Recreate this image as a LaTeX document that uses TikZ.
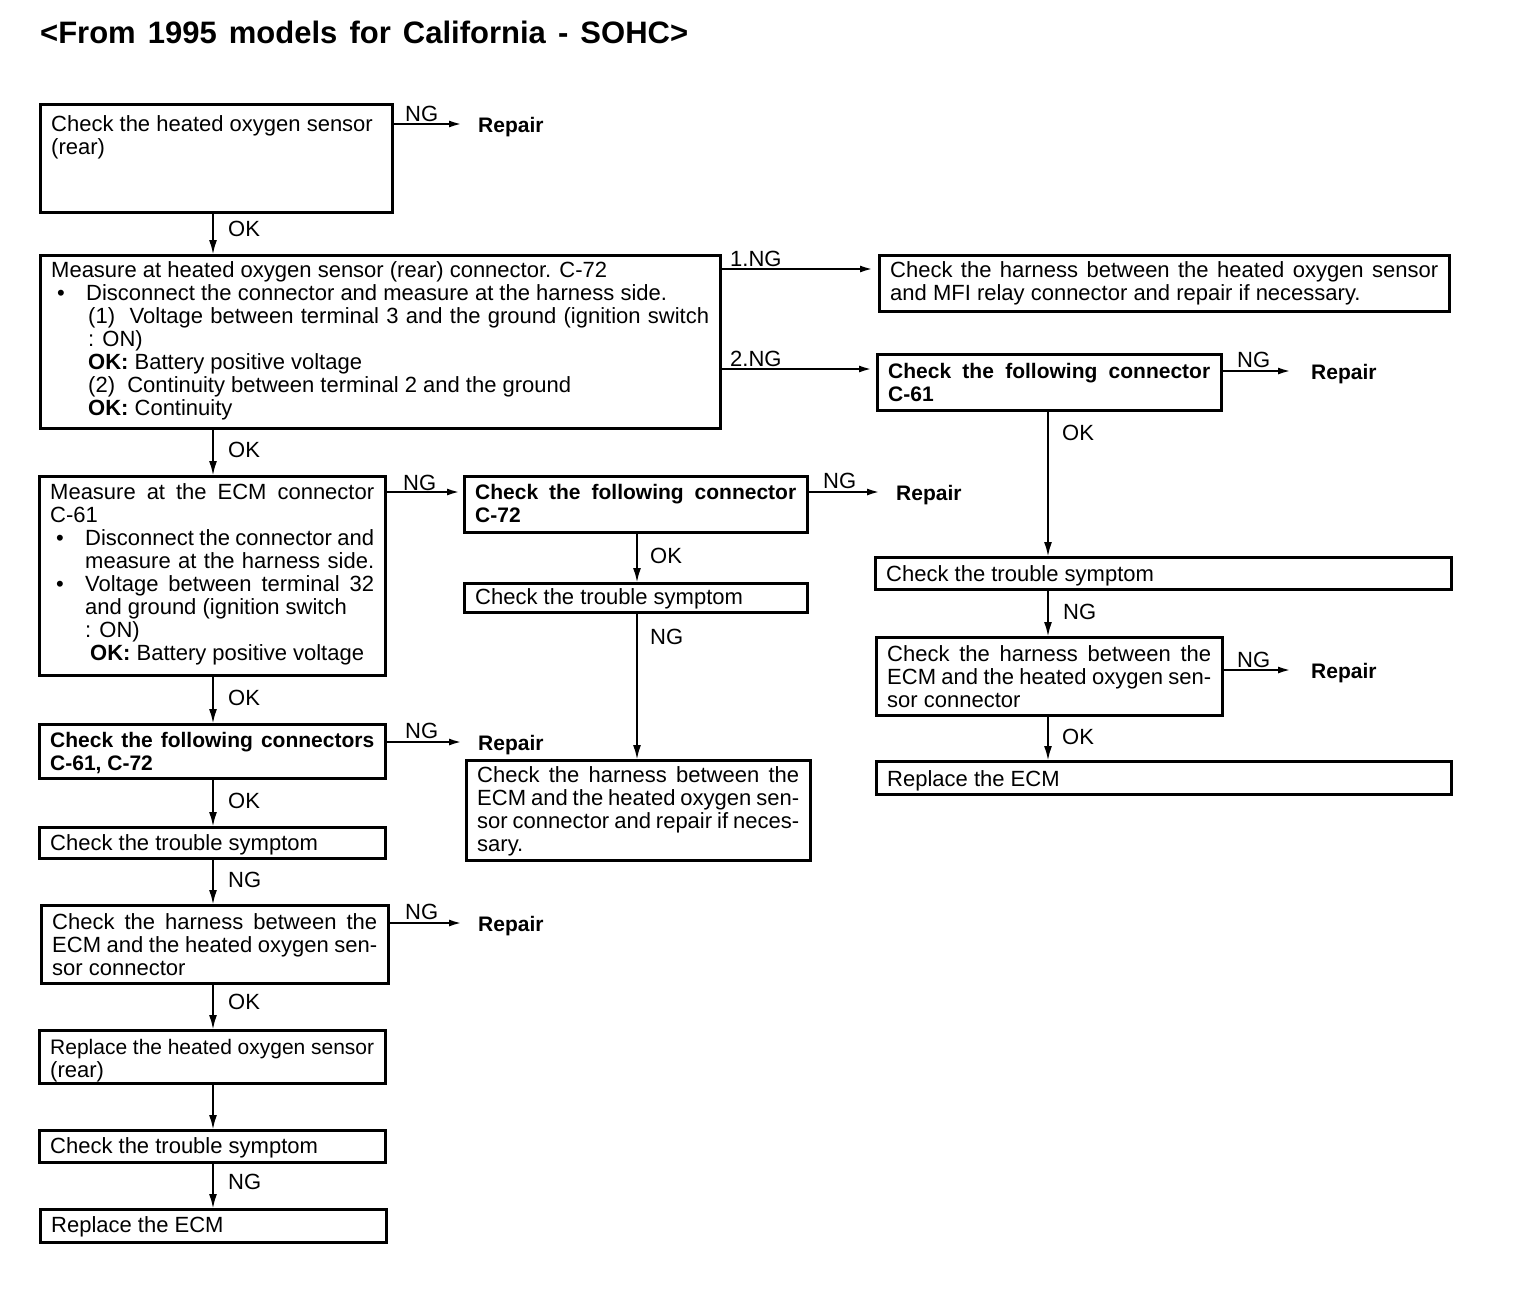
\documentclass[tikz,border=0pt]{standalone}
\usepackage{fontspec}
\setmainfont{Liberation Sans}
\usetikzlibrary{arrows.meta,calc}
\newcommand\Ln[1]{\makebox[\linewidth][l]{#1}\par}
\newcommand\Lj[1]{\makebox[\linewidth][s]{#1}\par}
\newcommand\bul{\makebox[35pt][l]{\hspace*{6pt}\textbullet}}
\tikzset{
  box/.style={draw, line width=3pt, anchor=north west, outer sep=0pt, inner sep=0pt},
  txt/.style={inner sep=0pt, anchor=base west, font=\fontsize{22}{23}\selectfont},
  btxt/.style={txt, font=\fontsize{21}{23}\selectfont\bfseries},
  rep/.style={inner sep=0pt, text height=16pt, text depth=0pt, anchor=west, font=\fontsize{21}{23}\selectfont\bfseries},
  lab/.style={inner sep=0pt, anchor=base west, font=\fontsize{22}{23}\selectfont},
  arr/.style={line width=2.3pt, -{Latex[length=15pt,width=8pt]}},
  harr/.style={line width=2.3pt, -{Latex[length=13pt,width=7pt]}},
}
% name x1 y1 x2 y2 dy style content
\newcommand\BX[8]{%
  \node[box, minimum width={#4-#2}, minimum height={#5-#3}] (#1) at (#2,#3) {};
  \node[#7] (#1t) at ($(#1.north west)+(11,#6)$) {\parbox[t]{\dimexpr #4pt-#2pt-22pt\relax}{#8}};
}
\begin{document}
\begin{tikzpicture}[x=1pt,y=-1pt]
\useasboundingbox (0,0) rectangle (1520,1298);
\node[inner sep=0pt, anchor=base west, font=\fontsize{31}{33}\selectfont\bfseries] (title) at (40,44)
  {\makebox[648pt][s]{<From 1995 models for California - SOHC>}};

% left column
\BX{b1}{40}{104}{392}{212}{27}{txt}{\Ln{Check the heated oxygen sensor}\Ln{(rear)}}
\BX{b2}{40}{255}{720}{428}{22}{txt}{%
  \Ln{Measure at heated oxygen sensor (rear) connector. C-72}%
  \Ln{\bul Disconnect the connector and measure at the harness side.}%
  \Lj{\hspace*{37pt}(1)\ \ Voltage between terminal 3 and the ground (ignition switch}%
  \Ln{\hspace*{37pt}: ON)}%
  \Ln{\hspace*{37pt}\textbf{OK:} Battery positive voltage}%
  \Ln{\hspace*{37pt}(2)\ \ Continuity between terminal 2 and the ground}%
  \Ln{\hspace*{37pt}\textbf{OK:} Continuity}}
\BX{b8}{39}{476}{385}{675}{23}{txt}{%
  \Lj{Measure at the ECM connector}%
  \Ln{C-61}%
  \Lj{\bul Disconnect the connector and}%
  \Lj{\hspace*{35pt}measure at the harness side.}%
  \Lj{\bul Voltage between terminal 32}%
  \Ln{\hspace*{35pt}and ground (ignition switch}%
  \Ln{\hspace*{35pt}: ON)}%
  \Ln{\hspace*{40pt}\textbf{OK:} Battery positive voltage}}
\BX{b12}{39}{724}{385}{778}{23}{btxt}{\Lj{Check the following connectors}\Ln{C-61, C-72}}
\BX{b13}{39}{827}{385}{858}{23}{txt}{\Ln{Check the trouble symptom}}
\BX{b14}{41}{905}{388}{983}{24}{txt}{\Lj{Check the harness between the}\Lj{ECM and the heated oxygen sen-}\Ln{sor connector}}
\BX{b15}{39}{1030}{385}{1083}{24}{txt}{\Lj{\fontsize{21}{23}\selectfont Replace the heated oxygen sensor}\Ln{(rear)}}
\BX{b16}{39}{1130}{385}{1162}{23}{txt}{\Ln{Check the trouble symptom}}
\BX{b17}{40}{1209}{386}{1242}{23}{txt}{\Ln{Replace the ECM}}

% middle column
\BX{b9}{464}{476}{807}{532}{23}{btxt}{\Lj{Check the following connector}\Ln{C-72}}
\BX{b10}{464}{583}{807}{612}{21}{txt}{\Ln{Check the trouble symptom}}
\BX{b11}{466}{760}{810}{860}{22}{txt}{\Lj{Check the harness between the}\Lj{ECM and the heated oxygen sen-}\Lj{sor connector and repair if neces-}\Ln{sary.}}

% right column
\BX{b3}{879}{255}{1449}{311}{22}{txt}{\Lj{Check the harness between the heated oxygen sensor}\Ln{and MFI relay connector and repair if necessary.}}
\BX{b4}{877}{354}{1221}{410}{24}{btxt}{\Lj{Check the following connector}\Ln{C-61}}
\BX{b5}{875}{557}{1451}{589}{24}{txt}{\Ln{Check the trouble symptom}}
\BX{b6}{876}{637}{1222}{715}{24}{txt}{\Lj{Check the harness between the}\Lj{ECM and the heated oxygen sen-}\Ln{sor connector}}
\BX{b7}{876}{761}{1451}{794}{25}{txt}{\Ln{Replace the ECM}}

% repair nodes
\node[rep] (r1) at (478,124) {Repair};
\node[rep] (r2) at (1311,371) {Repair};
\node[rep] (r3) at (896,492) {Repair};
\node[rep] (r4) at (1311,670) {Repair};
\node[rep] (r5) at (478,742) {Repair};
\node[rep] (r6) at (478,923) {Repair};

% column / row helpers
\coordinate (cL) at (213,0);
\coordinate (cM) at (637,0);
\coordinate (cR) at (1048,0);
\coordinate (y1) at (0,269);
\coordinate (y2) at (0,369);
\coordinate (y3) at (0,492);

% vertical connectors
\draw[arr] (b1.south -| cL) -- (b2.north -| cL);
\draw[arr] (b2.south -| cL) -- (b8.north -| cL);
\draw[arr] (b8.south -| cL) -- (b12.north -| cL);
\draw[arr] (b12.south -| cL) -- (b13.north -| cL);
\draw[arr] (b13.south -| cL) -- (b14.north -| cL);
\draw[arr] (b14.south -| cL) -- (b15.north -| cL);
\draw[arr] (b15.south -| cL) -- (b16.north -| cL);
\draw[arr] (b16.south -| cL) -- (b17.north -| cL);
\draw[arr] (b9.south -| cM) -- (b10.north -| cM);
\draw[arr] (b10.south -| cM) -- (b11.north -| cM);
\draw[arr] (b4.south -| cR) -- (b5.north -| cR);
\draw[arr] (b5.south -| cR) -- (b6.north -| cR);
\draw[arr] (b6.south -| cR) -- (b7.north -| cR);

% horizontal connectors
\draw[harr, shorten >=6pt] (b2.east |- y1) -- (b3.west |- y1);
\draw[harr, shorten >=5pt] (b2.east |- y2) -- (b4.west |- y2);
\draw[harr, shorten >=4pt] (b8.east |- y3) -- (b9.west |- y3);
\draw[harr, shorten >=16pt] (b1.east |- r1.west) -- (r1.west);
\draw[harr, shorten >=20pt] (b4.east |- r2.west) -- (r2.west);
\draw[harr, shorten >=16pt] (b9.east |- r3.west) -- (r3.west);
\draw[harr, shorten >=20pt] (b6.east |- r4.west) -- (r4.west);
\draw[harr, shorten >=16pt] (b12.east |- r5.west) -- (r5.west);
\draw[harr, shorten >=16pt] (b14.east |- r6.west) -- (r6.west);

% labels on vertical connectors
\node[lab] (l1) at (228,236) {OK};
\node[lab] (l2) at (228,457) {OK};
\node[lab] (l3) at (228,705) {OK};
\node[lab] (l4) at (228,808) {OK};
\node[lab] (l5) at (228,887) {NG};
\node[lab] (l6) at (228,1009) {OK};
\node[lab] (l7) at (228,1189) {NG};
\node[lab] (l8) at (650,563) {OK};
\node[lab] (l9) at (650,644) {NG};
\node[lab] (l10) at (1062,440) {OK};
\node[lab] (l11) at (1063,619) {NG};
\node[lab] (l12) at (1062,744) {OK};
% labels on horizontal connectors
\node[lab] (h1) at (405,121) {NG};
\node[lab] (h2) at (1237,367) {NG};
\node[lab] (h3) at (1237,667) {NG};
\node[lab] (h4) at (403,490) {NG};
\node[lab] (h5) at (823,488) {NG};
\node[lab] (h6) at (405,738) {NG};
\node[lab] (h7) at (405,919) {NG};
\node[lab] (h8) at (730,266) {1.NG};
\node[lab] (h9) at (730,366) {2.NG};
\end{tikzpicture}
\end{document}
